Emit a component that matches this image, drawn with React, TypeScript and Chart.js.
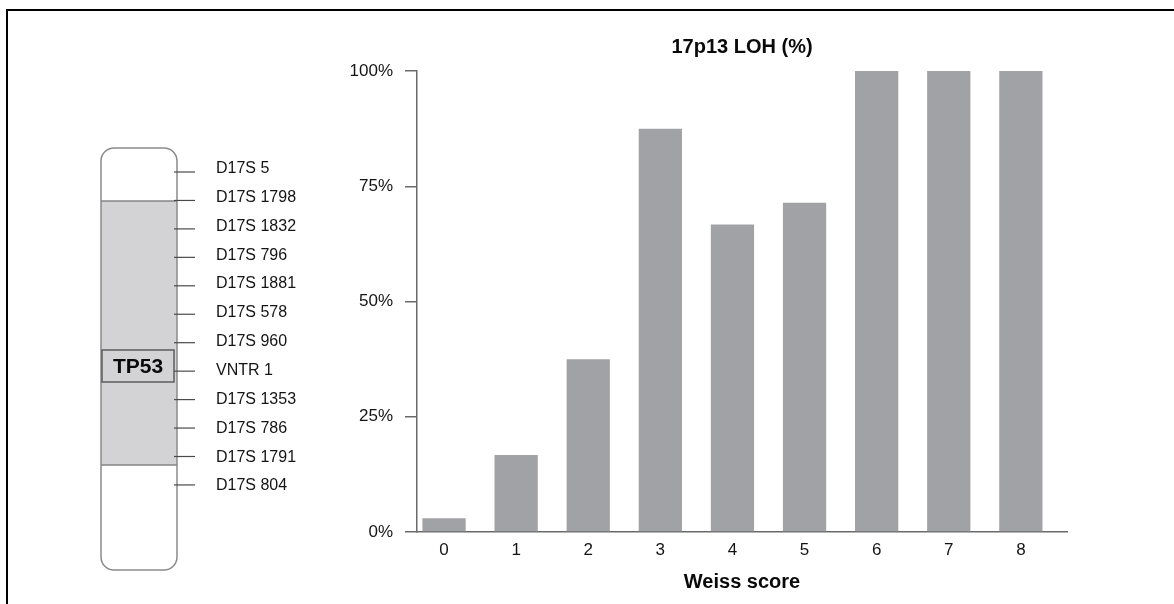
import React, { useEffect, useRef } from 'react';
import { Chart, registerables } from 'chart.js';

Chart.register(...registerables);

// ---- data ----
const weissScores = ['0', '1', '2', '3', '4', '5', '6', '7', '8'];
const lohPercent = [3, 16.7, 37.5, 87.5, 66.7, 71.4, 100, 100, 100];
const yTickValues = [0, 25, 50, 75, 100];
const markers = [
  'D17S 5',
  'D17S 1798',
  'D17S 1832',
  'D17S 796',
  'D17S 1881',
  'D17S 578',
  'D17S 960',
  'VNTR 1',
  'D17S 1353',
  'D17S 786',
  'D17S 1791',
  'D17S 804',
];
const geneLabel = 'TP53';
const chartTitle = '17p13 LOH (%)';
const xAxisTitle = 'Weiss score';

const FONT = '"Liberation Sans", Arial, Helvetica, sans-serif';
const AXIS_COLOR = '#6a6a6a';
const TEXT_COLOR = '#141414';

const diagramPlugin = {
  id: 'diagram',
  beforeDraw(chart: any) {
    const ctx: CanvasRenderingContext2D = chart.ctx;
    ctx.save();
    ctx.fillStyle = '#ffffff';
    ctx.fillRect(0, 0, chart.width, chart.height);

    // outer frame (top + left)
    ctx.strokeStyle = '#000000';
    ctx.lineWidth = 2;
    ctx.beginPath();
    ctx.moveTo(7, chart.height);
    ctx.lineTo(7, 10);
    ctx.lineTo(chart.width, 10);
    ctx.stroke();

    // chromosome body
    const cx0 = 101;
    const cx1 = 177;
    const cy0 = 148;
    const cy1 = 570;
    ctx.fillStyle = '#ffffff';
    ctx.beginPath();
    (ctx as any).roundRect(cx0, cy0, cx1 - cx0, cy1 - cy0, 13);
    ctx.fill();

    // shaded region
    ctx.fillStyle = '#d3d3d5';
    ctx.fillRect(cx0, 201, cx1 - cx0, 465 - 201);
    ctx.strokeStyle = '#858585';
    ctx.lineWidth = 1.5;
    ctx.beginPath();
    ctx.moveTo(cx0, 201);
    ctx.lineTo(cx1, 201);
    ctx.moveTo(cx0, 465);
    ctx.lineTo(cx1, 465);
    ctx.stroke();

    // outline
    ctx.strokeStyle = '#8a8a8a';
    ctx.lineWidth = 1.5;
    ctx.beginPath();
    (ctx as any).roundRect(cx0, cy0, cx1 - cx0, cy1 - cy0, 13);
    ctx.stroke();

    // TP53 box
    ctx.fillStyle = '#d3d3d5';
    ctx.fillRect(102, 350, 72, 32);
    ctx.strokeStyle = '#5e5e5e';
    ctx.lineWidth = 1.5;
    ctx.strokeRect(102, 350, 72, 32);
    ctx.fillStyle = '#0a0a0a';
    ctx.font = `bold 21px ${FONT}`;
    ctx.textAlign = 'center';
    ctx.textBaseline = 'middle';
    ctx.fillText(geneLabel, 138, 367);

    // marker ticks and labels
    ctx.strokeStyle = '#4a4a4a';
    ctx.lineWidth = 1.2;
    ctx.font = `16px ${FONT}`;
    ctx.textAlign = 'left';
    ctx.textBaseline = 'alphabetic';
    ctx.fillStyle = TEXT_COLOR;
    markers.forEach((m, i) => {
      const ty = 172 + i * 28.45;
      ctx.beginPath();
      ctx.moveTo(174, ty);
      ctx.lineTo(195, ty);
      ctx.stroke();
      const ly = 167 + i * 28.85;
      ctx.fillText(m, 216, ly + 6);
    });

    ctx.restore();
  },
};

export default function App() {
  const canvasRef = useRef<HTMLCanvasElement | null>(null);

  useEffect(() => {
    if (!canvasRef.current) return;
    const chart = new Chart(canvasRef.current, {
      type: 'bar',
      data: {
        datasets: [
          {
            data: lohPercent.map((v, i) => ({ x: i, y: v })),
            backgroundColor: '#a1a2a6',
            borderWidth: 0,
            barPercentage: 0.6,
            categoryPercentage: 1,
          },
        ],
      },
      options: {
        animation: false,
        responsive: false,
        devicePixelRatio: 1,
        layout: { padding: { left: 300, right: 107, top: 0, bottom: 0 } },
        plugins: {
          legend: { display: false },
          tooltip: { enabled: false },
          title: {
            display: true,
            text: chartTitle,
            fullSize: false,
            color: '#0a0a0a',
            font: { family: FONT, size: 20, weight: 'bold' },
            padding: { top: 35, bottom: 12 },
          },
        },
        scales: {
          x: {
            type: 'linear',
            offset: false,
            min: -0.375,
            max: 8.64,
            afterBuildTicks: (s: any) => {
              s.ticks = weissScores.map((_, i) => ({ value: i }));
            },
            afterFit: (s: any) => {
              s.height = 72;
            },
            ticks: {
              autoSkip: false,
              maxRotation: 0,
              padding: 8,
              color: TEXT_COLOR,
              font: { family: FONT, size: 17 },
              callback: (v: any) => weissScores[Math.round(Number(v))],
            },
            grid: { display: false, drawTicks: false, offset: false },
            border: { display: true, color: AXIS_COLOR, width: 1.5 },
            title: {
              display: true,
              text: xAxisTitle,
              color: '#0a0a0a',
              font: { family: FONT, size: 20, weight: 'bold' },
              padding: { top: 4, bottom: 10 },
            },
          },
          y: {
            min: 0,
            max: 100,
            afterBuildTicks: (s: any) => {
              s.ticks = yTickValues.map((v) => ({ value: v }));
            },
            afterFit: (s: any) => {
              s.width = 117;
            },
            ticks: {
              padding: 12,
              color: TEXT_COLOR,
              font: { family: FONT, size: 17 },
              callback: (v: any) => `${v}%`,
            },
            grid: {
              drawOnChartArea: false,
              drawTicks: true,
              tickLength: 12,
              color: AXIS_COLOR,
              lineWidth: 1.5,
            },
            border: { display: true, color: AXIS_COLOR, width: 1.5 },
          },
        },
      } as any,
      plugins: [diagramPlugin],
    });
    return () => chart.destroy();
  }, []);

  return (
    <div style={{ position: 'absolute', left: 0, top: 0, width: 1174, height: 604, background: '#fff' }}>
      <canvas ref={canvasRef} width={1174} height={604} style={{ display: 'block' }} />
    </div>
  );
}
